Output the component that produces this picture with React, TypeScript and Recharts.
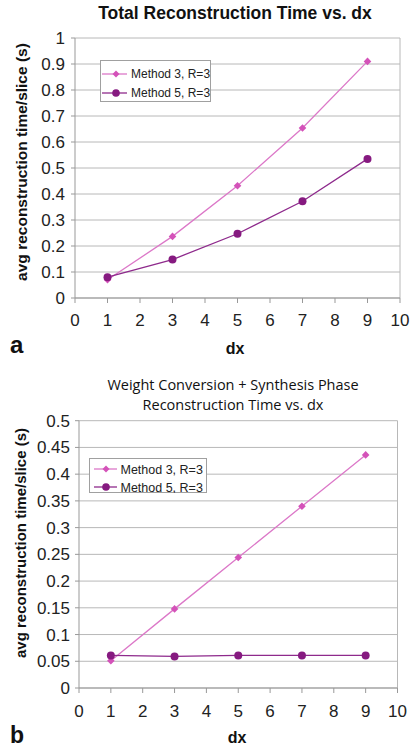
import React from 'react';
import { LineChart, Line, XAxis, YAxis, CartesianGrid, Legend, ReferenceLine } from 'recharts';

const dxValues = [1, 3, 5, 7, 9];
const totalMethod3 = [0.07, 0.237, 0.432, 0.654, 0.91];
const totalMethod5 = [0.08, 0.148, 0.247, 0.372, 0.535];
const synthMethod3 = [0.051, 0.148, 0.244, 0.34, 0.436];
const synthMethod5 = [0.061, 0.059, 0.061, 0.061, 0.061];
const seriesNames = ['Method 3, R=3', 'Method 5, R=3'];
const xTicks = [0, 1, 2, 3, 4, 5, 6, 7, 8, 9, 10];
const yTicksTotal = [0, 0.1, 0.2, 0.3, 0.4, 0.5, 0.6, 0.7, 0.8, 0.9, 1];
const yTicksSynth = [0, 0.05, 0.1, 0.15, 0.2, 0.25, 0.3, 0.35, 0.4, 0.45, 0.5];
const titleTop = 'Total Reconstruction Time vs. dx';
const titleBottom1 = 'Weight Conversion + Synthesis Phase';
const titleBottom2 = 'Reconstruction Time vs. dx';
const xLabel = 'dx';
const yLabel = 'avg reconstruction time/slice (s)';

const totalData = dxValues.map((dx, i) => ({ dx, m3: totalMethod3[i], m5: totalMethod5[i] }));
const synthData = dxValues.map((dx, i) => ({ dx, m3: synthMethod3[i], m5: synthMethod5[i] }));

const M3_LINE = '#dc78c8';
const M3_MARK = '#d452b9';
const M5_LINE = '#8e2a8c';
const M5_MARK = '#861a80';
const GRID = '#b8b8b8';
const AXIS = '#999999';
const FONT = '"Liberation Sans", Arial, sans-serif';

const diamond = (props: any) => {
  const { cx, cy, index } = props;
  const s = 3.8;
  if (cx == null || cy == null) return <g key={`dn-${index}`} />;
  return (
    <path
      key={`dm-${index}`}
      d={`M${cx},${cy - s}L${cx + s},${cy}L${cx},${cy + s}L${cx - s},${cy}Z`}
      fill={M3_MARK}
    />
  );
};

const makeLegend = (w: number, h: number, rowY: number[], lineX: [number, number], markX: number, textX: number, fs: number) =>
  (props: any) => {
    const payload = props.payload || [];
    return (
      <div style={{ width: w, height: h, border: '1px solid #a0a0a0', background: '#fff', boxSizing: 'border-box', position: 'relative' }}>
        <svg width={w} height={h} style={{ position: 'absolute', left: -1, top: -1 }}>
          {payload.map((entry: any, i: number) => {
            const y = rowY[i];
            const isM3 = i === 0;
            return (
              <g key={`lg-${i}`}>
                <line x1={lineX[0]} x2={lineX[1]} y1={y} y2={y} stroke={isM3 ? M3_LINE : M5_LINE} strokeWidth={1.3} />
                {isM3 ? (
                  <path d={`M${markX},${y - 3.5}L${markX + 3.5},${y}L${markX},${y + 3.5}L${markX - 3.5},${y}Z`} fill={M3_MARK} />
                ) : (
                  <circle cx={markX} cy={y} r={3.8} fill={M5_MARK} />
                )}
                <text x={textX} y={y + fs * 0.36} fontSize={fs} fontFamily={FONT} fill="#222">
                  {entry.value}
                </text>
              </g>
            );
          })}
        </svg>
      </div>
    );
  };

const TopLegend = makeLegend(111, 42, [14, 33], [2, 27], 16, 31, 12);
const BottomLegend = makeLegend(118, 35, [11, 29], [5, 28], 17, 31.5, 12.5);

export default function App() {
  return (
    <div style={{ position: 'absolute', left: 0, top: 0, width: 410, height: 753, background: '#fff' }}>
      <div style={{ position: 'absolute', left: 0, top: 0 }}>
        <LineChart width={410} height={360} data={totalData} margin={{ top: 38, right: 10, bottom: 0, left: 0 }}>
          <CartesianGrid vertical={false} stroke={GRID} />
          <XAxis
            dataKey="dx"
            type="number"
            domain={[0, 10]}
            ticks={xTicks}
            interval={0}
            height={62}
            tickSize={5}
            tickMargin={11}
            stroke={AXIS}
            tick={{ fontSize: 17, fill: '#222', fontFamily: FONT }}
          />
          <YAxis
            type="number"
            domain={[0, 1]}
            ticks={yTicksTotal}
            interval={0}
            width={75}
            tickSize={4}
            tickMargin={6}
            stroke={AXIS}
            tick={{ fontSize: 17, fill: '#222', fontFamily: FONT }}
          />
          <ReferenceLine x={10} stroke={GRID} />
          <Legend
            layout="vertical"
            align="center"
            verticalAlign="middle"
            content={TopLegend}
            wrapperStyle={{ left: 100, top: 60, width: 111, height: 42 }}
          />
          <Line name={seriesNames[0]} dataKey="m3" stroke={M3_LINE} strokeWidth={1.3} dot={diamond} isAnimationActive={false} />
          <Line name={seriesNames[1]} dataKey="m5" stroke={M5_LINE} strokeWidth={1.3} dot={{ r: 4, fill: M5_MARK, stroke: M5_MARK, strokeWidth: 0 }} isAnimationActive={false} />
        </LineChart>
      </div>
      <div style={{ position: 'absolute', left: 0, top: 370 }}>
        <LineChart width={410} height={383} data={synthData} margin={{ top: 50.7, right: 12.5, bottom: 0, left: 0 }}>
          <CartesianGrid vertical={false} stroke={GRID} />
          <XAxis
            dataKey="dx"
            type="number"
            domain={[0, 10]}
            ticks={xTicks}
            interval={0}
            height={65}
            tickSize={5}
            tickMargin={12}
            stroke={AXIS}
            tick={{ fontSize: 17, fill: '#222', fontFamily: FONT }}
          />
          <YAxis
            type="number"
            domain={[0, 0.5]}
            ticks={yTicksSynth}
            interval={0}
            width={79}
            tickSize={4}
            tickMargin={5}
            stroke={AXIS}
            tick={{ fontSize: 17, fill: '#222', fontFamily: FONT }}
          />
          <ReferenceLine x={10} stroke={GRID} />
          <Legend
            layout="vertical"
            align="center"
            verticalAlign="middle"
            content={BottomLegend}
            wrapperStyle={{ left: 89, top: 88, width: 118, height: 35 }}
          />
          <Line name={seriesNames[0]} dataKey="m3" stroke={M3_LINE} strokeWidth={1.3} dot={diamond} isAnimationActive={false} />
          <Line name={seriesNames[1]} dataKey="m5" stroke={M5_LINE} strokeWidth={1.3} dot={{ r: 4, fill: M5_MARK, stroke: M5_MARK, strokeWidth: 0 }} isAnimationActive={false} />
        </LineChart>
      </div>
      <svg width={410} height={753} style={{ position: 'absolute', left: 0, top: 0, pointerEvents: 'none' }}>
        <text x={235} y={19} textAnchor="middle" fontSize={17.5} fontWeight="bold" fontFamily={FONT} fill="#111">{titleTop}</text>
        <text x={235} y={354} textAnchor="middle" fontSize={16} fontWeight="bold" fontFamily={FONT} fill="#111">{xLabel}</text>
        <text x={10} y={353} fontSize={24} fontWeight="bold" fontFamily={FONT} fill="#111">a</text>
        <text x={27} y={162} textAnchor="middle" fontSize={15.5} fontWeight="bold" fontFamily={FONT} fill="#111" transform="rotate(-90, 27, 162)">{yLabel}</text>
        <text x={233} y={390} textAnchor="middle" fontSize={14.5} fontFamily='"Open Sans", sans-serif' fill="#111">{titleBottom1}</text>
        <text x={233} y={410} textAnchor="middle" fontSize={14.5} fontFamily='"Open Sans", sans-serif' fill="#111">{titleBottom2}</text>
        <text x={237} y={743} textAnchor="middle" fontSize={16} fontWeight="bold" fontFamily={FONT} fill="#111">{xLabel}</text>
        <text x={10} y={743} fontSize={23} fontWeight="bold" fontFamily={FONT} fill="#111">b</text>
        <text x={26} y={543} textAnchor="middle" fontSize={15} fontWeight="bold" fontFamily={FONT} fill="#111" transform="rotate(-90, 26, 543)">{yLabel}</text>
      </svg>
    </div>
  );
}
